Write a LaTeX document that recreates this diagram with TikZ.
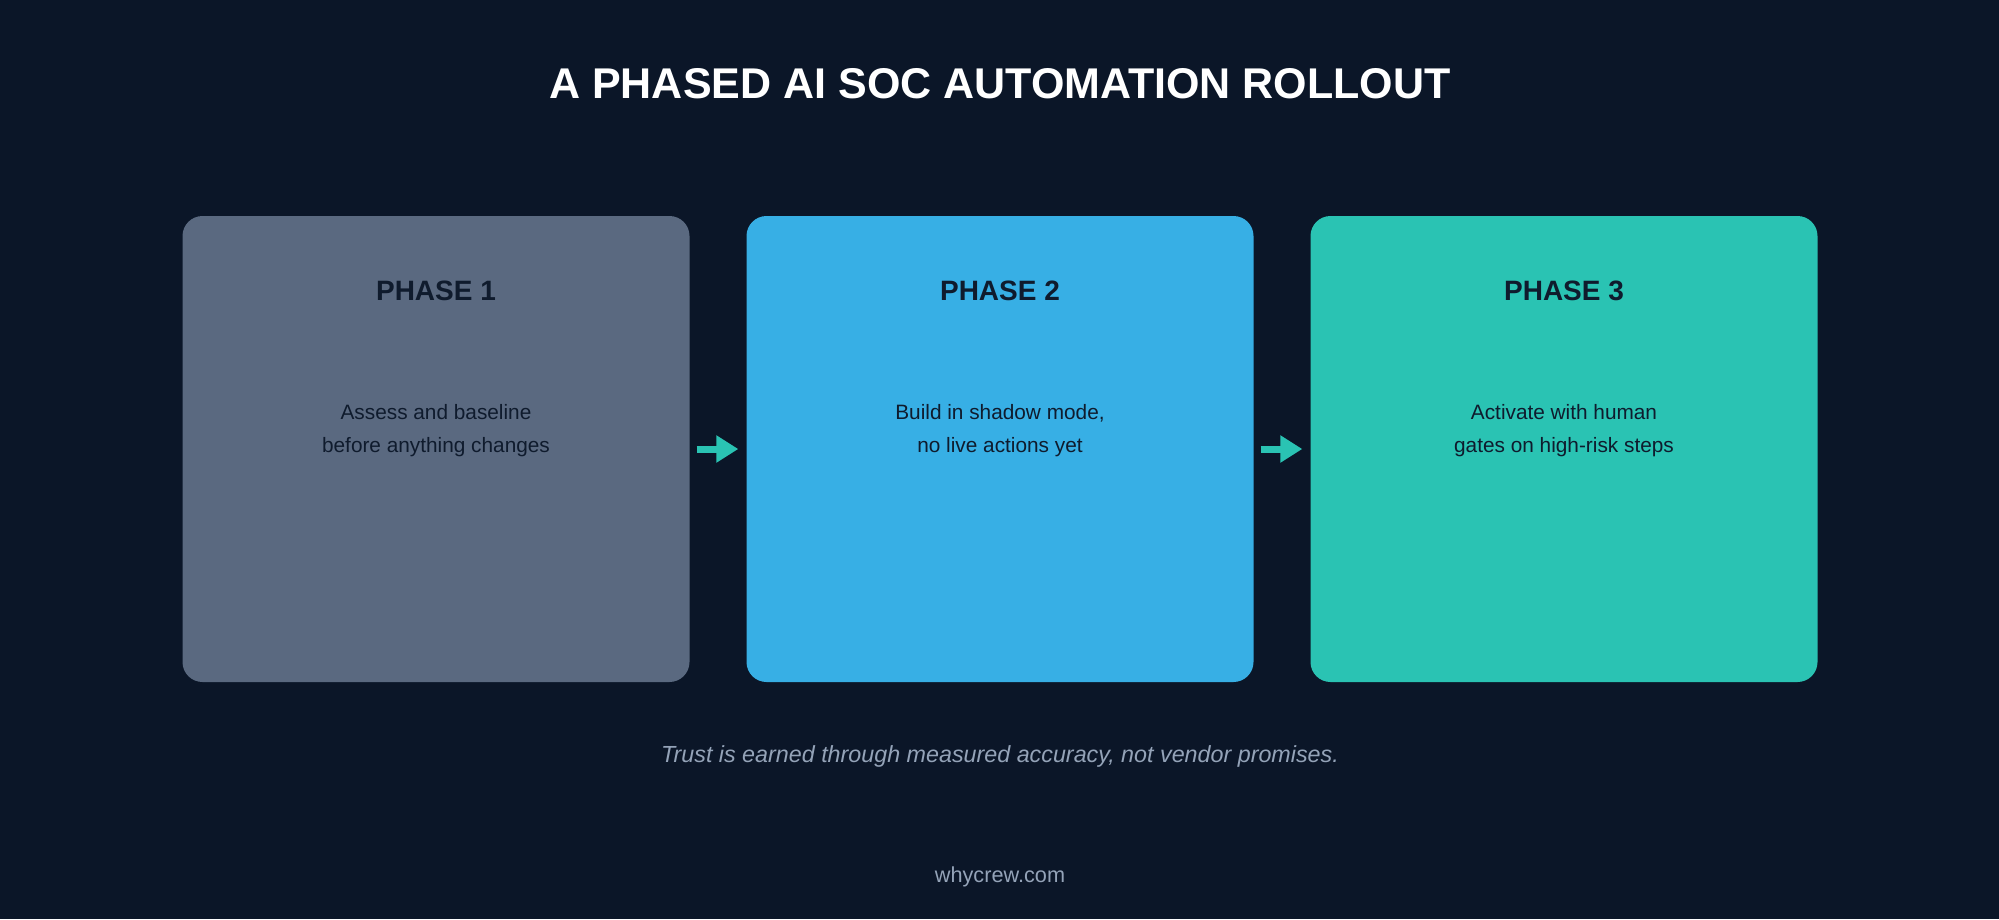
\documentclass[tikz,border=0pt]{standalone}
\usepackage{fontspec}
\setmainfont{Liberation Sans}
\usetikzlibrary{arrows.meta}
\definecolor{bg}{HTML}{0B1628}
\definecolor{boxA}{HTML}{5A6980}
\definecolor{boxB}{HTML}{37AFE5}
\definecolor{boxC}{HTML}{2AC3B3}
\definecolor{ink}{HTML}{0F1B2D}
\definecolor{muted}{HTML}{94A3B8}
\tikzset{
  phasebox/.style={fill=#1, draw=none, rounded corners=20pt, minimum width=507pt, minimum height=466pt, inner sep=0pt},
  phasetitle/.style={anchor=base, text=ink, font=\fontsize{28}{32}\selectfont\bfseries},
  phasetext/.style={anchor=base, text=ink, font=\fontsize{20.8}{33}\selectfont, align=center},
  flow/.style={draw=boxC, line width=7pt, -{Triangle[length=22pt,width=26pt]}},
}
\begin{document}
\begin{tikzpicture}[x=1pt,y=-1pt]
\fill[bg] (0,0) rectangle (1999,919);
\useasboundingbox (0,0) rectangle (1999,919);
\node[anchor=base, text=white, font=\fontsize{43}{50}\selectfont\bfseries] (title) at (1000,98) {A PHASED AI SOC AUTOMATION ROLLOUT};
\node[phasebox=boxA] (p1) at (436,449) {};
\node[phasebox=boxB] (p2) at (1000,449) {};
\node[phasebox=boxC] (p3) at (1564,449) {};
\node[phasetitle] (t1) at (436,300) {PHASE 1};
\node[phasetitle] (t2) at (1000,300) {PHASE 2};
\node[phasetitle] (t3) at (1564,300) {PHASE 3};
\node[phasetext] (d1) at (436,452) {Assess and baseline\\before anything changes};
\node[phasetext] (d2) at (1000,452) {Build in shadow mode,\\no live actions yet};
\node[phasetext] (d3) at (1564,452) {Activate with human\\gates on high-risk steps};
\draw[flow] ([xshift=7pt]p1.east) -- ([xshift=-8pt]p2.west);
\draw[flow] ([xshift=7pt]p2.east) -- ([xshift=-8pt]p3.west);
\node[anchor=base, text=muted, font=\fontsize{23.3}{27}\selectfont\itshape] (tag) at (1000,762) {Trust is earned through measured accuracy, not vendor promises.};
\node[anchor=base, text=muted, font=\fontsize{21.7}{26}\selectfont] (foot) at (1000,882) {whycrew.com};
\end{tikzpicture}
\end{document}
